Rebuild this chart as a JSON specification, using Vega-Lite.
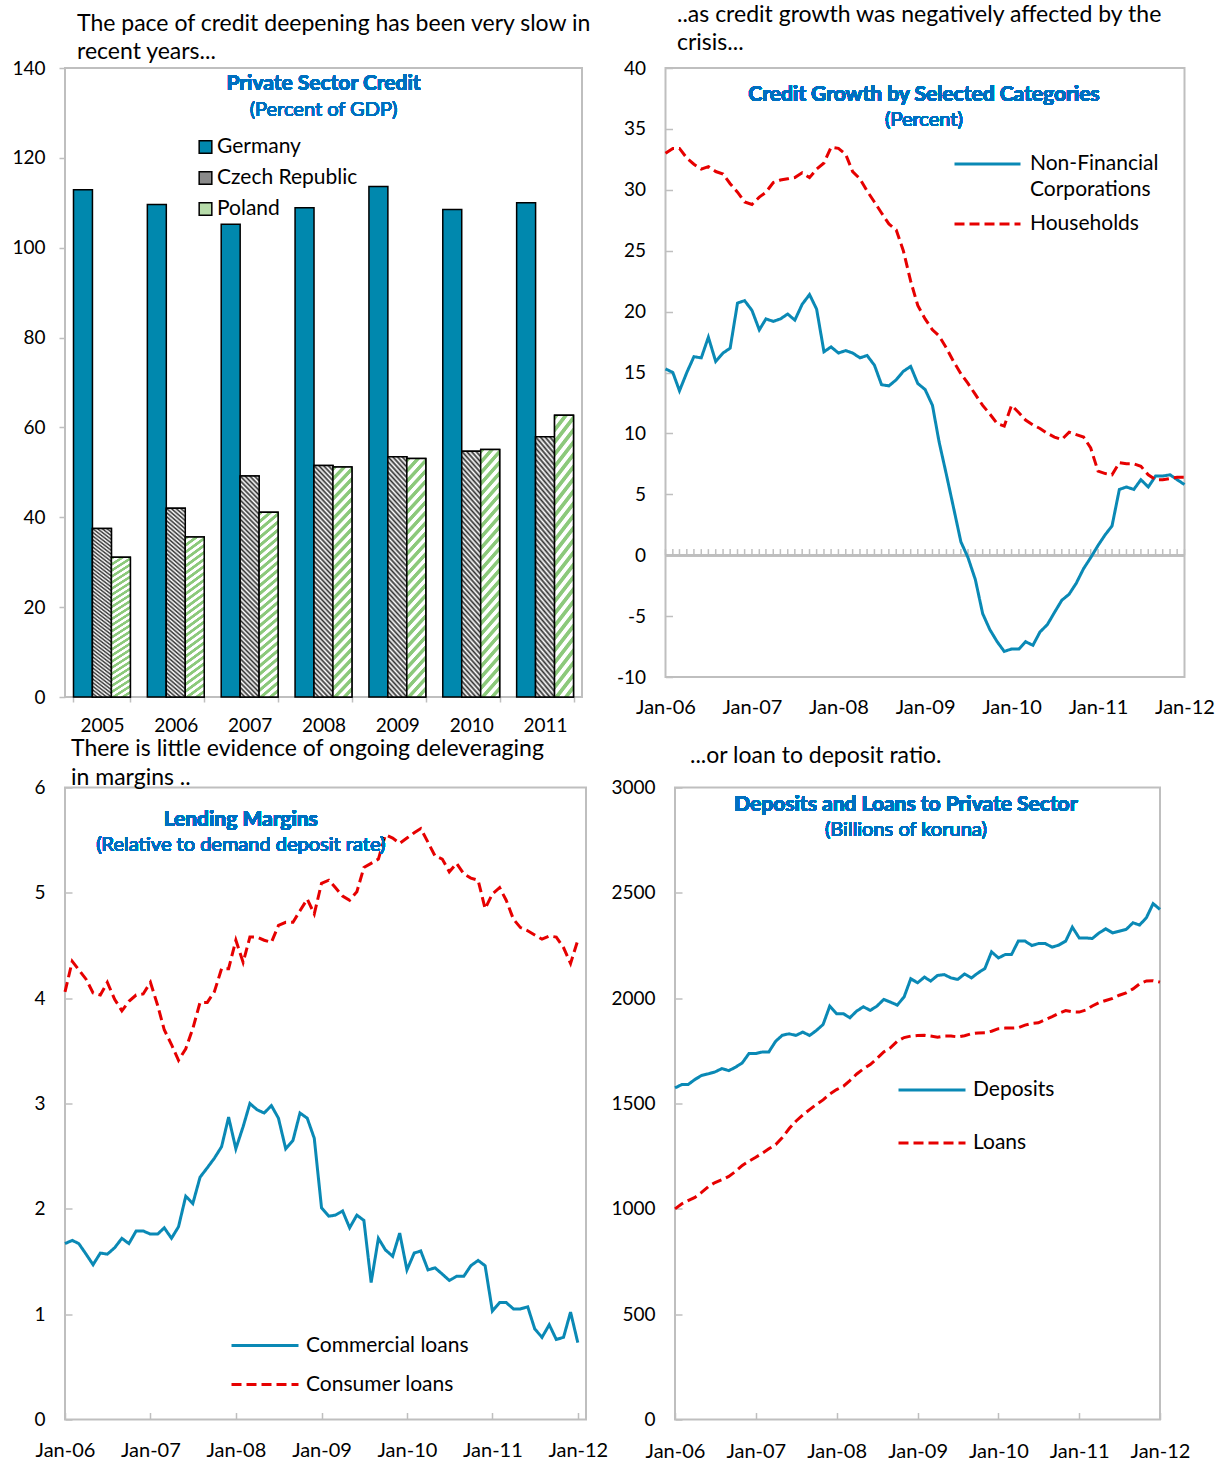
{
"$schema":"https://vega.github.io/schema/vega-lite/v6.json",
"background":"white",
"padding":{"left":10,"top":2,"right":5,"bottom":2},
"datasets":{
"bars":[
{"year":"2005","country":"Germany","v":112.9},{"year":"2005","country":"Czech Republic","v":37.5},{"year":"2005","country":"Poland","v":31.1},
{"year":"2006","country":"Germany","v":109.6},{"year":"2006","country":"Czech Republic","v":42.0},{"year":"2006","country":"Poland","v":35.6},
{"year":"2007","country":"Germany","v":105.2},{"year":"2007","country":"Czech Republic","v":49.2},{"year":"2007","country":"Poland","v":41.1},
{"year":"2008","country":"Germany","v":108.9},{"year":"2008","country":"Czech Republic","v":51.5},{"year":"2008","country":"Poland","v":51.2},
{"year":"2009","country":"Germany","v":113.6},{"year":"2009","country":"Czech Republic","v":53.5},{"year":"2009","country":"Poland","v":53.1},
{"year":"2010","country":"Germany","v":108.5},{"year":"2010","country":"Czech Republic","v":54.7},{"year":"2010","country":"Poland","v":55.1},
{"year":"2011","country":"Germany","v":110.0},{"year":"2011","country":"Czech Republic","v":57.9},{"year":"2011","country":"Poland","v":62.7}
],
"credit":[
{"d":"2006/01/01","nfc":15.3,"hh":33.0},{"d":"2006/02/01","nfc":15.0,"hh":33.4},{"d":"2006/03/01","nfc":13.5,"hh":33.4},{"d":"2006/04/01","nfc":15.0,"hh":32.6},{"d":"2006/05/01","nfc":16.3,"hh":32.1},{"d":"2006/06/01","nfc":16.2,"hh":31.7},{"d":"2006/07/01","nfc":17.9,"hh":31.9},{"d":"2006/08/01","nfc":15.9,"hh":31.5},{"d":"2006/09/01","nfc":16.6,"hh":31.3},{"d":"2006/10/01","nfc":17.0,"hh":30.5},{"d":"2006/11/01","nfc":20.7,"hh":29.8},{"d":"2006/12/01","nfc":20.9,"hh":29.0},
{"d":"2007/01/01","nfc":20.1,"hh":28.8},{"d":"2007/02/01","nfc":18.5,"hh":29.4},{"d":"2007/03/01","nfc":19.4,"hh":29.8},{"d":"2007/04/01","nfc":19.2,"hh":30.6},{"d":"2007/05/01","nfc":19.4,"hh":30.8},{"d":"2007/06/01","nfc":19.8,"hh":30.9},{"d":"2007/07/01","nfc":19.3,"hh":31.0},{"d":"2007/08/01","nfc":20.6,"hh":31.4},{"d":"2007/09/01","nfc":21.4,"hh":31.0},{"d":"2007/10/01","nfc":20.2,"hh":31.7},{"d":"2007/11/01","nfc":16.7,"hh":32.2},{"d":"2007/12/01","nfc":17.1,"hh":33.5},
{"d":"2008/01/01","nfc":16.6,"hh":33.4},{"d":"2008/02/01","nfc":16.8,"hh":32.9},{"d":"2008/03/01","nfc":16.6,"hh":31.5},{"d":"2008/04/01","nfc":16.2,"hh":30.9},{"d":"2008/05/01","nfc":16.4,"hh":29.9},{"d":"2008/06/01","nfc":15.6,"hh":29.0},{"d":"2008/07/01","nfc":14.0,"hh":28.1},{"d":"2008/08/01","nfc":13.9,"hh":27.2},{"d":"2008/09/01","nfc":14.4,"hh":26.7},{"d":"2008/10/01","nfc":15.1,"hh":25.0},{"d":"2008/11/01","nfc":15.5,"hh":22.5},{"d":"2008/12/01","nfc":14.1,"hh":20.5},
{"d":"2009/01/01","nfc":13.6,"hh":19.4},{"d":"2009/02/01","nfc":12.3,"hh":18.5},{"d":"2009/03/01","nfc":9.3,"hh":18.0},{"d":"2009/04/01","nfc":6.6,"hh":17.0},{"d":"2009/05/01","nfc":3.9,"hh":15.9},{"d":"2009/06/01","nfc":1.1,"hh":14.9},{"d":"2009/07/01","nfc":-0.2,"hh":14.1},{"d":"2009/08/01","nfc":-2.0,"hh":13.2},{"d":"2009/09/01","nfc":-4.8,"hh":12.3},{"d":"2009/10/01","nfc":-6.1,"hh":11.6},{"d":"2009/11/01","nfc":-7.1,"hh":10.8},{"d":"2009/12/01","nfc":-7.9,"hh":10.6},
{"d":"2010/01/01","nfc":-7.7,"hh":12.3},{"d":"2010/02/01","nfc":-7.7,"hh":11.7},{"d":"2010/03/01","nfc":-7.1,"hh":11.1},{"d":"2010/04/01","nfc":-7.4,"hh":10.7},{"d":"2010/05/01","nfc":-6.3,"hh":10.4},{"d":"2010/06/01","nfc":-5.7,"hh":10.0},{"d":"2010/07/01","nfc":-4.7,"hh":9.7},{"d":"2010/08/01","nfc":-3.7,"hh":9.5},{"d":"2010/09/01","nfc":-3.2,"hh":10.1},{"d":"2010/10/01","nfc":-2.3,"hh":9.9},{"d":"2010/11/01","nfc":-1.1,"hh":9.7},{"d":"2010/12/01","nfc":-0.2,"hh":8.8},
{"d":"2011/01/01","nfc":0.8,"hh":6.9},{"d":"2011/02/01","nfc":1.7,"hh":6.7},{"d":"2011/03/01","nfc":2.4,"hh":6.6},{"d":"2011/04/01","nfc":5.4,"hh":7.6},{"d":"2011/05/01","nfc":5.6,"hh":7.5},{"d":"2011/06/01","nfc":5.4,"hh":7.5},{"d":"2011/07/01","nfc":6.2,"hh":7.3},{"d":"2011/08/01","nfc":5.6,"hh":6.6},{"d":"2011/09/01","nfc":6.5,"hh":6.2},{"d":"2011/10/01","nfc":6.5,"hh":6.2},{"d":"2011/11/01","nfc":6.6,"hh":6.3},{"d":"2011/12/01","nfc":6.2,"hh":6.4},
{"d":"2012/01/01","nfc":5.8,"hh":6.4}
],
"margins":[
{"d":"2006/01/01","com":1.67,"con":4.06},{"d":"2006/02/01","com":1.70,"con":4.35},{"d":"2006/03/01","com":1.67,"con":4.27},{"d":"2006/04/01","com":1.57,"con":4.18},{"d":"2006/05/01","com":1.47,"con":4.05},{"d":"2006/06/01","com":1.58,"con":4.03},{"d":"2006/07/01","com":1.57,"con":4.15},{"d":"2006/08/01","com":1.63,"con":3.99},{"d":"2006/09/01","com":1.72,"con":3.88},{"d":"2006/10/01","com":1.67,"con":3.97},{"d":"2006/11/01","com":1.79,"con":4.03},{"d":"2006/12/01","com":1.79,"con":4.04},
{"d":"2007/01/01","com":1.76,"con":4.15},{"d":"2007/02/01","com":1.76,"con":3.93},{"d":"2007/03/01","com":1.82,"con":3.70},{"d":"2007/04/01","com":1.72,"con":3.56},{"d":"2007/05/01","com":1.83,"con":3.41},{"d":"2007/06/01","com":2.12,"con":3.52},{"d":"2007/07/01","com":2.05,"con":3.71},{"d":"2007/08/01","com":2.30,"con":3.96},{"d":"2007/09/01","com":2.39,"con":3.96},{"d":"2007/10/01","com":2.48,"con":4.06},{"d":"2007/11/01","com":2.59,"con":4.28},{"d":"2007/12/01","com":2.87,"con":4.28},
{"d":"2008/01/01","com":2.57,"con":4.55},{"d":"2008/02/01","com":2.78,"con":4.34},{"d":"2008/03/01","com":3.00,"con":4.58},{"d":"2008/04/01","com":2.94,"con":4.58},{"d":"2008/05/01","com":2.91,"con":4.55},{"d":"2008/06/01","com":2.98,"con":4.53},{"d":"2008/07/01","com":2.86,"con":4.69},{"d":"2008/08/01","com":2.57,"con":4.72},{"d":"2008/09/01","com":2.65,"con":4.72},{"d":"2008/10/01","com":2.91,"con":4.83},{"d":"2008/11/01","com":2.86,"con":4.94},{"d":"2008/12/01","com":2.67,"con":4.80},
{"d":"2009/01/01","com":2.01,"con":5.09},{"d":"2009/02/01","com":1.93,"con":5.12},{"d":"2009/03/01","com":1.94,"con":5.05},{"d":"2009/04/01","com":1.98,"con":4.97},{"d":"2009/05/01","com":1.82,"con":4.93},{"d":"2009/06/01","com":1.94,"con":5.01},{"d":"2009/07/01","com":1.89,"con":5.24},{"d":"2009/08/01","com":1.30,"con":5.28},{"d":"2009/09/01","com":1.72,"con":5.32},{"d":"2009/10/01","com":1.61,"con":5.55},{"d":"2009/11/01","com":1.55,"con":5.52},{"d":"2009/12/01","com":1.77,"con":5.47},
{"d":"2010/01/01","com":1.42,"con":5.52},{"d":"2010/02/01","com":1.58,"con":5.57},{"d":"2010/03/01","com":1.60,"con":5.61},{"d":"2010/04/01","com":1.42,"con":5.48},{"d":"2010/05/01","com":1.44,"con":5.35},{"d":"2010/06/01","com":1.38,"con":5.32},{"d":"2010/07/01","com":1.32,"con":5.20},{"d":"2010/08/01","com":1.36,"con":5.28},{"d":"2010/09/01","com":1.36,"con":5.18},{"d":"2010/10/01","com":1.46,"con":5.14},{"d":"2010/11/01","com":1.51,"con":5.12},{"d":"2010/12/01","com":1.46,"con":4.85},
{"d":"2011/01/01","com":1.03,"con":4.99},{"d":"2011/02/01","com":1.11,"con":5.05},{"d":"2011/03/01","com":1.11,"con":4.93},{"d":"2011/04/01","com":1.05,"con":4.75},{"d":"2011/05/01","com":1.05,"con":4.67},{"d":"2011/06/01","com":1.07,"con":4.64},{"d":"2011/07/01","com":0.86,"con":4.60},{"d":"2011/08/01","com":0.78,"con":4.56},{"d":"2011/09/01","com":0.90,"con":4.59},{"d":"2011/10/01","com":0.76,"con":4.58},{"d":"2011/11/01","com":0.78,"con":4.48},{"d":"2011/12/01","com":1.02,"con":4.33},
{"d":"2012/01/01","com":0.73,"con":4.55}
],
"deposits":[
{"d":"2006/01/01","dep":1574,"loa":1000},{"d":"2006/02/01","dep":1590,"loa":1024},{"d":"2006/03/01","dep":1590,"loa":1039},{"d":"2006/04/01","dep":1614,"loa":1054},{"d":"2006/05/01","dep":1633,"loa":1078},{"d":"2006/06/01","dep":1641,"loa":1106},{"d":"2006/07/01","dep":1650,"loa":1125},{"d":"2006/08/01","dep":1666,"loa":1138},{"d":"2006/09/01","dep":1656,"loa":1154},{"d":"2006/10/01","dep":1672,"loa":1177},{"d":"2006/11/01","dep":1693,"loa":1206},{"d":"2006/12/01","dep":1737,"loa":1226},
{"d":"2007/01/01","dep":1737,"loa":1245},{"d":"2007/02/01","dep":1745,"loa":1265},{"d":"2007/03/01","dep":1745,"loa":1285},{"d":"2007/04/01","dep":1796,"loa":1305},{"d":"2007/05/01","dep":1824,"loa":1339},{"d":"2007/06/01","dep":1831,"loa":1381},{"d":"2007/07/01","dep":1823,"loa":1416},{"d":"2007/08/01","dep":1839,"loa":1445},{"d":"2007/09/01","dep":1823,"loa":1471},{"d":"2007/10/01","dep":1846,"loa":1495},{"d":"2007/11/01","dep":1875,"loa":1517},{"d":"2007/12/01","dep":1962,"loa":1545},
{"d":"2008/01/01","dep":1926,"loa":1566},{"d":"2008/02/01","dep":1926,"loa":1582},{"d":"2008/03/01","dep":1907,"loa":1609},{"d":"2008/04/01","dep":1939,"loa":1640},{"d":"2008/05/01","dep":1959,"loa":1664},{"d":"2008/06/01","dep":1942,"loa":1685},{"d":"2008/07/01","dep":1962,"loa":1713},{"d":"2008/08/01","dep":1994,"loa":1745},{"d":"2008/09/01","dep":1981,"loa":1765},{"d":"2008/10/01","dep":1967,"loa":1795},{"d":"2008/11/01","dep":2006,"loa":1813},{"d":"2008/12/01","dep":2092,"loa":1820},
{"d":"2009/01/01","dep":2073,"loa":1823},{"d":"2009/02/01","dep":2100,"loa":1824},{"d":"2009/03/01","dep":2081,"loa":1820},{"d":"2009/04/01","dep":2108,"loa":1815},{"d":"2009/05/01","dep":2112,"loa":1820},{"d":"2009/06/01","dep":2096,"loa":1820},{"d":"2009/07/01","dep":2089,"loa":1816},{"d":"2009/08/01","dep":2115,"loa":1822},{"d":"2009/09/01","dep":2096,"loa":1831},{"d":"2009/10/01","dep":2120,"loa":1835},{"d":"2009/11/01","dep":2141,"loa":1836},{"d":"2009/12/01","dep":2220,"loa":1843},
{"d":"2010/01/01","dep":2191,"loa":1855},{"d":"2010/02/01","dep":2207,"loa":1858},{"d":"2010/03/01","dep":2207,"loa":1858},{"d":"2010/04/01","dep":2271,"loa":1860},{"d":"2010/05/01","dep":2271,"loa":1872},{"d":"2010/06/01","dep":2250,"loa":1880},{"d":"2010/07/01","dep":2259,"loa":1883},{"d":"2010/08/01","dep":2259,"loa":1898},{"d":"2010/09/01","dep":2242,"loa":1912},{"d":"2010/10/01","dep":2252,"loa":1928},{"d":"2010/11/01","dep":2271,"loa":1941},{"d":"2010/12/01","dep":2337,"loa":1935},
{"d":"2011/01/01","dep":2286,"loa":1934},{"d":"2011/02/01","dep":2286,"loa":1944},{"d":"2011/03/01","dep":2283,"loa":1963},{"d":"2011/04/01","dep":2310,"loa":1979},{"d":"2011/05/01","dep":2329,"loa":1989},{"d":"2011/06/01","dep":2310,"loa":1999},{"d":"2011/07/01","dep":2318,"loa":2014},{"d":"2011/08/01","dep":2326,"loa":2025},{"d":"2011/09/01","dep":2358,"loa":2044},{"d":"2011/10/01","dep":2347,"loa":2068},{"d":"2011/11/01","dep":2383,"loa":2082},{"d":"2011/12/01","dep":2449,"loa":2083},
{"d":"2012/01/01","dep":2421,"loa":2076}
]
},
"spacing":0.5,
"resolve":{"scale":{"color":"independent","strokeDash":"independent","fill":"independent"},"legend":{"color":"independent","strokeDash":"independent","fill":"independent"}},
"vconcat":[
{"hconcat":[
{
"width":517,"height":629,
"title":{"text":["The pace of credit deepening has been very slow in","recent years..."],"anchor":"start","frame":"group","dx":12,"offset":-5},
"data":{"name":"bars"},
"layer":[
{"mark":{"type":"bar","stroke":"#000","strokeWidth":1.5},
"encoding":{
"x":{"field":"year","type":"nominal","scale":{"paddingInner":0.23,"paddingOuter":0.115},"axis":{"title":null,"labelAngle":0,"tickBand":"extent","ticks":true,"tickSize":5,"labelPadding":14}},
"xOffset":{"field":"country","type":"nominal","scale":{"domain":["Germany","Czech Republic","Poland"]}},
"y":{"field":"v","type":"quantitative","scale":{"domain":[0,140],"nice":false},"axis":{"title":null,"values":[0,20,40,60,80,100,120,140],"ticks":true,"tickSize":6,"labelPadding":14}},
"fill":{"field":"country","type":"nominal","scale":{"domain":["Germany","Czech Republic","Poland"],"range":["#0088AE","#8a8a8a","#b7dcaa"]},
"legend":{"title":null,"orient":"none","legendX":130,"legendY":68.5,"symbolType":"square","symbolSize":160,"symbolStrokeColor":"#000","symbolStrokeWidth":1.5,"labelFontSize":21,"labelOffset":1,"rowPadding":9,"padding":0,"labelLimit":400}}
}},
{"transform":[{"filter":"datum.country == 'Czech Republic'"}],
"mark":{"type":"bar","stroke":"#000","strokeWidth":1.5,"fill":{"gradient":"linear","x1":1,"y1":0,"x2":0.906,"y2":1.079,"stops":[
{"offset":0,"color":"#303030"},{"offset":0.01,"color":"#ffffff"},{"offset":0.02,"color":"#303030"},{"offset":0.03,"color":"#ffffff"},{"offset":0.04,"color":"#303030"},{"offset":0.05,"color":"#ffffff"},{"offset":0.06,"color":"#303030"},{"offset":0.07,"color":"#ffffff"},{"offset":0.08,"color":"#303030"},{"offset":0.09,"color":"#ffffff"},
{"offset":0.1,"color":"#303030"},{"offset":0.11,"color":"#ffffff"},{"offset":0.12,"color":"#303030"},{"offset":0.13,"color":"#ffffff"},{"offset":0.14,"color":"#303030"},{"offset":0.15,"color":"#ffffff"},{"offset":0.16,"color":"#303030"},{"offset":0.17,"color":"#ffffff"},{"offset":0.18,"color":"#303030"},{"offset":0.19,"color":"#ffffff"},
{"offset":0.2,"color":"#303030"},{"offset":0.21,"color":"#ffffff"},{"offset":0.22,"color":"#303030"},{"offset":0.23,"color":"#ffffff"},{"offset":0.24,"color":"#303030"},{"offset":0.25,"color":"#ffffff"},{"offset":0.26,"color":"#303030"},{"offset":0.27,"color":"#ffffff"},{"offset":0.28,"color":"#303030"},{"offset":0.29,"color":"#ffffff"},
{"offset":0.3,"color":"#303030"},{"offset":0.31,"color":"#ffffff"},{"offset":0.32,"color":"#303030"},{"offset":0.33,"color":"#ffffff"},{"offset":0.34,"color":"#303030"},{"offset":0.35,"color":"#ffffff"},{"offset":0.36,"color":"#303030"},{"offset":0.37,"color":"#ffffff"},{"offset":0.38,"color":"#303030"},{"offset":0.39,"color":"#ffffff"},
{"offset":0.4,"color":"#303030"},{"offset":0.41,"color":"#ffffff"},{"offset":0.42,"color":"#303030"},{"offset":0.43,"color":"#ffffff"},{"offset":0.44,"color":"#303030"},{"offset":0.45,"color":"#ffffff"},{"offset":0.46,"color":"#303030"},{"offset":0.47,"color":"#ffffff"},{"offset":0.48,"color":"#303030"},{"offset":0.49,"color":"#ffffff"},
{"offset":0.5,"color":"#303030"},{"offset":0.51,"color":"#ffffff"},{"offset":0.52,"color":"#303030"},{"offset":0.53,"color":"#ffffff"},{"offset":0.54,"color":"#303030"},{"offset":0.55,"color":"#ffffff"},{"offset":0.56,"color":"#303030"},{"offset":0.57,"color":"#ffffff"},{"offset":0.58,"color":"#303030"},{"offset":0.59,"color":"#ffffff"},
{"offset":0.6,"color":"#303030"},{"offset":0.61,"color":"#ffffff"},{"offset":0.62,"color":"#303030"},{"offset":0.63,"color":"#ffffff"},{"offset":0.64,"color":"#303030"},{"offset":0.65,"color":"#ffffff"},{"offset":0.66,"color":"#303030"},{"offset":0.67,"color":"#ffffff"},{"offset":0.68,"color":"#303030"},{"offset":0.69,"color":"#ffffff"},
{"offset":0.7,"color":"#303030"},{"offset":0.71,"color":"#ffffff"},{"offset":0.72,"color":"#303030"},{"offset":0.73,"color":"#ffffff"},{"offset":0.74,"color":"#303030"},{"offset":0.75,"color":"#ffffff"},{"offset":0.76,"color":"#303030"},{"offset":0.77,"color":"#ffffff"},{"offset":0.78,"color":"#303030"},{"offset":0.79,"color":"#ffffff"},
{"offset":0.8,"color":"#303030"},{"offset":0.81,"color":"#ffffff"},{"offset":0.82,"color":"#303030"},{"offset":0.83,"color":"#ffffff"},{"offset":0.84,"color":"#303030"},{"offset":0.85,"color":"#ffffff"},{"offset":0.86,"color":"#303030"},{"offset":0.87,"color":"#ffffff"},{"offset":0.88,"color":"#303030"},{"offset":0.89,"color":"#ffffff"},
{"offset":0.9,"color":"#303030"},{"offset":0.91,"color":"#ffffff"},{"offset":0.92,"color":"#303030"},{"offset":0.93,"color":"#ffffff"},{"offset":0.94,"color":"#303030"},{"offset":0.95,"color":"#ffffff"},{"offset":0.96,"color":"#303030"},{"offset":0.97,"color":"#ffffff"},{"offset":0.98,"color":"#303030"},{"offset":0.99,"color":"#ffffff"},
{"offset":1,"color":"#303030"}]}},
"encoding":{
"x":{"field":"year","type":"nominal"},
"xOffset":{"field":"country","type":"nominal","scale":{"domain":["Germany","Czech Republic","Poland"]}},
"y":{"field":"v","type":"quantitative"}
}},
{"transform":[{"filter":"datum.country == 'Poland'"}],
"mark":{"type":"bar","stroke":"#000","strokeWidth":1.5,"fill":{"gradient":"linear","x1":0,"y1":0,"x2":0.094,"y2":1.079,"stops":[
{"offset":0,"color":"#8cc97b"},{"offset":0.016,"color":"#8cc97b"},{"offset":0.02,"color":"#ffffff"},{"offset":0.036,"color":"#ffffff"},
{"offset":0.04,"color":"#8cc97b"},{"offset":0.056,"color":"#8cc97b"},{"offset":0.06,"color":"#ffffff"},{"offset":0.076,"color":"#ffffff"},
{"offset":0.08,"color":"#8cc97b"},{"offset":0.096,"color":"#8cc97b"},{"offset":0.1,"color":"#ffffff"},{"offset":0.116,"color":"#ffffff"},
{"offset":0.12,"color":"#8cc97b"},{"offset":0.136,"color":"#8cc97b"},{"offset":0.14,"color":"#ffffff"},{"offset":0.156,"color":"#ffffff"},
{"offset":0.16,"color":"#8cc97b"},{"offset":0.176,"color":"#8cc97b"},{"offset":0.18,"color":"#ffffff"},{"offset":0.196,"color":"#ffffff"},
{"offset":0.2,"color":"#8cc97b"},{"offset":0.216,"color":"#8cc97b"},{"offset":0.22,"color":"#ffffff"},{"offset":0.236,"color":"#ffffff"},
{"offset":0.24,"color":"#8cc97b"},{"offset":0.256,"color":"#8cc97b"},{"offset":0.26,"color":"#ffffff"},{"offset":0.276,"color":"#ffffff"},
{"offset":0.28,"color":"#8cc97b"},{"offset":0.296,"color":"#8cc97b"},{"offset":0.3,"color":"#ffffff"},{"offset":0.316,"color":"#ffffff"},
{"offset":0.32,"color":"#8cc97b"},{"offset":0.336,"color":"#8cc97b"},{"offset":0.34,"color":"#ffffff"},{"offset":0.356,"color":"#ffffff"},
{"offset":0.36,"color":"#8cc97b"},{"offset":0.376,"color":"#8cc97b"},{"offset":0.38,"color":"#ffffff"},{"offset":0.396,"color":"#ffffff"},
{"offset":0.4,"color":"#8cc97b"},{"offset":0.416,"color":"#8cc97b"},{"offset":0.42,"color":"#ffffff"},{"offset":0.436,"color":"#ffffff"},
{"offset":0.44,"color":"#8cc97b"},{"offset":0.456,"color":"#8cc97b"},{"offset":0.46,"color":"#ffffff"},{"offset":0.476,"color":"#ffffff"},
{"offset":0.48,"color":"#8cc97b"},{"offset":0.496,"color":"#8cc97b"},{"offset":0.5,"color":"#ffffff"},{"offset":0.516,"color":"#ffffff"},
{"offset":0.52,"color":"#8cc97b"},{"offset":0.536,"color":"#8cc97b"},{"offset":0.54,"color":"#ffffff"},{"offset":0.556,"color":"#ffffff"},
{"offset":0.56,"color":"#8cc97b"},{"offset":0.576,"color":"#8cc97b"},{"offset":0.58,"color":"#ffffff"},{"offset":0.596,"color":"#ffffff"},
{"offset":0.6,"color":"#8cc97b"},{"offset":0.616,"color":"#8cc97b"},{"offset":0.62,"color":"#ffffff"},{"offset":0.636,"color":"#ffffff"},
{"offset":0.64,"color":"#8cc97b"},{"offset":0.656,"color":"#8cc97b"},{"offset":0.66,"color":"#ffffff"},{"offset":0.676,"color":"#ffffff"},
{"offset":0.68,"color":"#8cc97b"},{"offset":0.696,"color":"#8cc97b"},{"offset":0.7,"color":"#ffffff"},{"offset":0.716,"color":"#ffffff"},
{"offset":0.72,"color":"#8cc97b"},{"offset":0.736,"color":"#8cc97b"},{"offset":0.74,"color":"#ffffff"},{"offset":0.756,"color":"#ffffff"},
{"offset":0.76,"color":"#8cc97b"},{"offset":0.776,"color":"#8cc97b"},{"offset":0.78,"color":"#ffffff"},{"offset":0.796,"color":"#ffffff"},
{"offset":0.8,"color":"#8cc97b"},{"offset":0.816,"color":"#8cc97b"},{"offset":0.82,"color":"#ffffff"},{"offset":0.836,"color":"#ffffff"},
{"offset":0.84,"color":"#8cc97b"},{"offset":0.856,"color":"#8cc97b"},{"offset":0.86,"color":"#ffffff"},{"offset":0.876,"color":"#ffffff"},
{"offset":0.88,"color":"#8cc97b"},{"offset":0.896,"color":"#8cc97b"},{"offset":0.9,"color":"#ffffff"},{"offset":0.916,"color":"#ffffff"},
{"offset":0.92,"color":"#8cc97b"},{"offset":0.936,"color":"#8cc97b"},{"offset":0.94,"color":"#ffffff"},{"offset":0.956,"color":"#ffffff"},
{"offset":0.96,"color":"#8cc97b"},{"offset":0.976,"color":"#8cc97b"},{"offset":0.98,"color":"#ffffff"},{"offset":1,"color":"#ffffff"}]}},
"encoding":{
"x":{"field":"year","type":"nominal"},
"xOffset":{"field":"country","type":"nominal","scale":{"domain":["Germany","Czech Republic","Poland"]}},
"y":{"field":"v","type":"quantitative"}
}},
{"mark":{"type":"text","font":"Lato","fontSize":21,"fontWeight":"bold","color":"#0070C0","align":"center","baseline":"middle"},
"encoding":{"x":{"datum":"2008","type":"nominal"},"y":{"datum":136.4,"type":"quantitative"},"text":{"value":"Private Sector Credit"}}},
{"mark":{"type":"text","font":"Lato","fontSize":20,"color":"#0070C0","align":"center","baseline":"middle"},
"encoding":{"x":{"datum":"2008","type":"nominal"},"y":{"datum":130.65,"type":"quantitative"},"text":{"value":"(Percent of GDP)"}}}
]
},
{
"width":519,"height":609,
"title":{"text":["..as credit growth was negatively affected by the","crisis..."],"anchor":"start","frame":"group","dx":11.5,"offset":4},
"data":{"name":"credit"},
"layer":[
{"mark":{"type":"rule","color":"#BFBFBF","strokeWidth":2},
"encoding":{"y":{"datum":0,"type":"quantitative"}}},
{"mark":{"type":"rule","color":"#BFBFBF","strokeWidth":1.5},
"encoding":{"x":{"field":"d","type":"temporal"},"y":{"datum":0,"type":"quantitative"},"y2":{"datum":0.5}}},
{"transform":[{"fold":["nfc","hh"],"as":["s","v"]}],
"mark":{"type":"line","strokeWidth":3},
"encoding":{
"x":{"field":"d","type":"temporal","scale":{"domain":[{"year":2006,"month":1,"date":1},{"year":2012,"month":1,"date":1}],"nice":false},"axis":{"title":null,"format":"%b-%y","tickCount":{"interval":"year","step":1},"ticks":false,"domain":false,"labelPadding":20,"labelFlush":false,"labelOverlap":false,"labelFontSize":20}},
"y":{"field":"v","type":"quantitative","scale":{"domain":[-10,40],"nice":false,"zero":false},"axis":{"title":null,"values":[-10,-5,0,5,10,15,20,25,30,35,40],"labelExpr":"'' + datum.value","ticks":true,"tickSize":-7,"labelPadding":27}},
"color":{"field":"s","type":"nominal","scale":{"domain":["nfc","hh"],"range":["#0A89B5","#E60000"]},"legend":{"title":null,"orient":"none","legendX":287.5,"legendY":83,"clipHeight":26,"symbolType":"stroke","symbolSize":4356,"symbolStrokeWidth":3,"labelOffset":8,"rowPadding":11,"labelLimit":400,"labelExpr":"datum.label == 'nfc' ? ['Non-Financial', 'Corporations'] : 'Households'","encode":{"labels":{"update":{"lineHeight":{"value":26}}}}}},
"strokeDash":{"field":"s","type":"nominal","scale":{"domain":["nfc","hh"],"range":[[1,0],[10,5]]},"legend":{"title":null,"orient":"none","legendX":287.5,"legendY":83,"clipHeight":26,"symbolType":"stroke","symbolSize":4356,"symbolStrokeWidth":3,"labelOffset":8,"rowPadding":11,"labelLimit":400,"labelExpr":"datum.label == 'nfc' ? ['Non-Financial', 'Corporations'] : 'Households'","encode":{"labels":{"update":{"lineHeight":{"value":26}}}}}}
}},
{"mark":{"type":"text","font":"Lato","fontSize":21,"fontWeight":"bold","color":"#0070C0","align":"center","baseline":"middle"},
"encoding":{"x":{"datum":{"year":2008,"month":12,"date":27},"type":"temporal"},"y":{"datum":37.8,"type":"quantitative"},"text":{"value":"Credit Growth by Selected Categories"}}},
{"mark":{"type":"text","font":"Lato","fontSize":20,"color":"#0070C0","align":"center","baseline":"middle"},
"encoding":{"x":{"datum":{"year":2008,"month":12,"date":27},"type":"temporal"},"y":{"datum":35.7,"type":"quantitative"},"text":{"value":"(Percent)"}}}
]
}
],"spacing":83.5,"bounds":"flush",
"resolve":{"scale":{"color":"independent","strokeDash":"independent","fill":"independent"},"legend":{"color":"independent","strokeDash":"independent","fill":"independent"}}},
{"hconcat":[
{
"width":521,"height":632,
"title":{"text":["There is little evidence of ongoing deleveraging","in margins .."],"anchor":"start","frame":"group","dx":6,"offset":-11},
"data":{"name":"margins"},
"layer":[
{"transform":[{"fold":["com","con"],"as":["s","v"]}],
"mark":{"type":"line","strokeWidth":3},
"encoding":{
"x":{"field":"d","type":"temporal","scale":{"domain":[{"year":2006,"month":1,"date":1},{"year":2012,"month":2,"date":5}],"nice":false},"axis":{"title":null,"format":"%b-%y","tickCount":{"interval":"year","step":1},"ticks":true,"tickSize":-7,"labelPadding":27.5,"labelFlush":false,"labelOverlap":false,"labelFontSize":20}},
"y":{"field":"v","type":"quantitative","scale":{"domain":[0,6],"nice":false},"axis":{"title":null,"values":[0,1,2,3,4,5,6],"format":"d","ticks":true,"tickSize":-7,"labelPadding":27}},
"color":{"field":"s","type":"nominal","scale":{"domain":["com","con"],"range":["#0A89B5","#E60000"]},"legend":{"title":null,"orient":"none","legendX":165,"legendY":547.5,"clipHeight":21,"symbolType":"stroke","symbolSize":4489,"symbolStrokeWidth":3,"labelOffset":6,"rowPadding":17,"labelLimit":400,"labelExpr":"datum.label == 'com' ? 'Commercial loans' : 'Consumer loans'"}},
"strokeDash":{"field":"s","type":"nominal","scale":{"domain":["com","con"],"range":[[1,0],[10,5]]},"legend":{"title":null,"orient":"none","legendX":165,"legendY":547.5,"clipHeight":21,"symbolType":"stroke","symbolSize":4489,"symbolStrokeWidth":3,"labelOffset":6,"rowPadding":17,"labelLimit":400,"labelExpr":"datum.label == 'com' ? 'Commercial loans' : 'Consumer loans'"}}
}},
{"mark":{"type":"text","font":"Lato","fontSize":21,"fontWeight":"bold","color":"#0070C0","align":"center","baseline":"middle"},
"encoding":{"x":{"datum":{"year":2008,"month":1,"date":22},"type":"temporal"},"y":{"datum":5.695,"type":"quantitative"},"text":{"value":"Lending Margins"}}},
{"mark":{"type":"text","font":"Lato","fontSize":20,"color":"#0070C0","align":"center","baseline":"middle"},
"encoding":{"x":{"datum":{"year":2008,"month":1,"date":22},"type":"temporal"},"y":{"datum":5.45,"type":"quantitative"},"text":{"value":"(Relative to demand deposit rate)"}}}
]
},
{
"width":485,"height":632,
"title":{"text":"...or loan to deposit ratio.","anchor":"start","frame":"group","dx":15,"offset":11},
"data":{"name":"deposits"},
"layer":[
{"transform":[{"fold":["dep","loa"],"as":["s","v"]}],
"mark":{"type":"line","strokeWidth":3},
"encoding":{
"x":{"field":"d","type":"temporal","scale":{"domain":[{"year":2006,"month":1,"date":1},{"year":2012,"month":1,"date":1}],"nice":false},"axis":{"title":null,"format":"%b-%y","tickCount":{"interval":"year","step":1},"ticks":true,"tickSize":-7,"labelPadding":29,"labelFlush":false,"labelOverlap":false,"labelFontSize":20}},
"y":{"field":"v","type":"quantitative","scale":{"domain":[0,3000],"nice":false},"axis":{"title":null,"values":[0,500,1000,1500,2000,2500,3000],"format":"d","ticks":true,"tickSize":-7,"labelPadding":27}},
"color":{"field":"s","type":"nominal","scale":{"domain":["dep","loa"],"range":["#0A89B5","#E60000"]},"legend":{"title":null,"orient":"none","legendX":222,"legendY":267.5,"symbolType":"stroke","symbolSize":4489,"symbolStrokeWidth":3,"labelOffset":6,"rowPadding":8,"labelLimit":400,"labelExpr":"datum.label == 'dep' ? 'Deposits' : 'Loans'"}},
"strokeDash":{"field":"s","type":"nominal","scale":{"domain":["dep","loa"],"range":[[1,0],[10,5]]},"legend":{"title":null,"orient":"none","legendX":222,"legendY":267.5,"symbolType":"stroke","symbolSize":4489,"symbolStrokeWidth":3,"labelOffset":6,"rowPadding":8,"labelLimit":400,"labelExpr":"datum.label == 'dep' ? 'Deposits' : 'Loans'"}}
}},
{"mark":{"type":"text","font":"Lato","fontSize":21,"fontWeight":"bold","color":"#0070C0","align":"center","baseline":"middle"},
"encoding":{"x":{"datum":{"year":2008,"month":11,"date":9},"type":"temporal"},"y":{"datum":2915,"type":"quantitative"},"text":{"value":"Deposits and Loans to Private Sector"}}},
{"mark":{"type":"text","font":"Lato","fontSize":20,"color":"#0070C0","align":"center","baseline":"middle"},
"encoding":{"x":{"datum":{"year":2008,"month":11,"date":9},"type":"temporal"},"y":{"datum":2800,"type":"quantitative"},"text":{"value":"(Billions of koruna)"}}}
]
}
],"spacing":89,"bounds":"flush",
"resolve":{"scale":{"color":"independent","strokeDash":"independent","fill":"independent"},"legend":{"color":"independent","strokeDash":"independent","fill":"independent"}}}
],
"config":{
"font":"Lato",
"view":{"stroke":"#BFBFBF","strokeWidth":2},
"axis":{"labelFont":"Lato","labelFontSize":19,"labelColor":"#000","grid":false,"domain":false,"tickColor":"#BFBFBF","tickWidth":1.5},
"legend":{"labelFont":"Lato","labelFontSize":21,"labelColor":"#000","padding":0},
"title":{"font":"Lato","fontSize":23,"fontWeight":"normal","color":"#000","lineHeight":28.5}
}
}
